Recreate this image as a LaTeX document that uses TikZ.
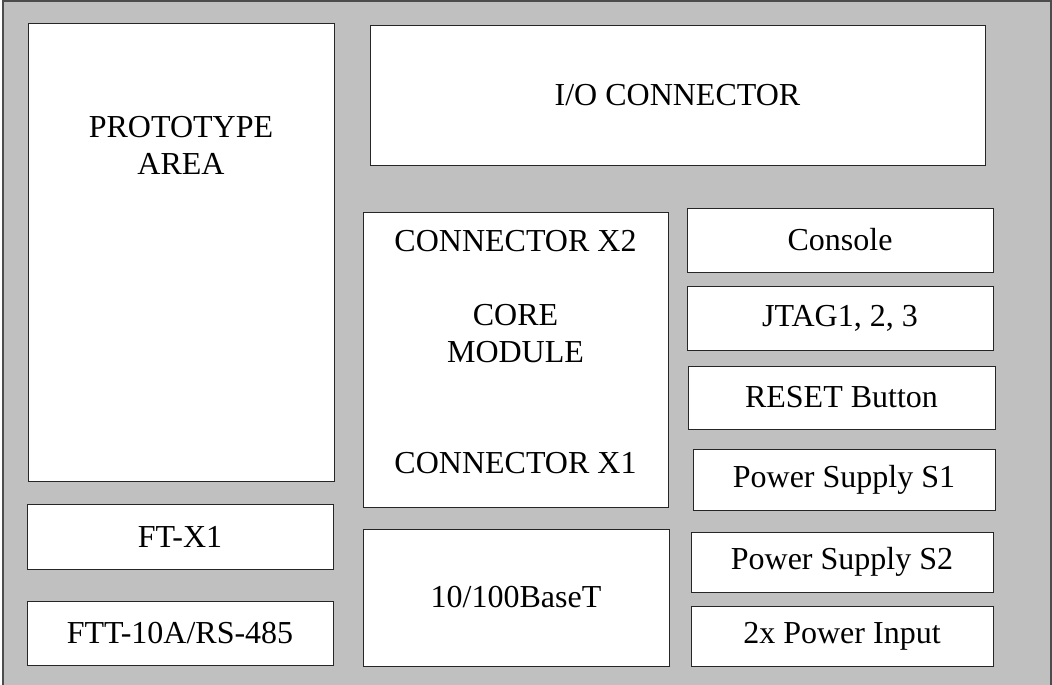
\documentclass[tikz,border=0pt]{standalone}
\usepackage{fontspec}
\setmainfont{Liberation Serif}
\definecolor{boardgray}{HTML}{C0C0C0}
\tikzset{
    block/.style={draw=black!85, fill=white, line width=0.9pt, inner sep=0pt, font=\fontsize{32}{36}\selectfont},
    txt/.style={anchor=base, inner sep=0pt, font=\fontsize{32}{36}\selectfont}
}
\begin{document}
\begin{tikzpicture}[x=1pt,y=-1pt]
    \useasboundingbox (0,0) rectangle (1052,685);
    %board
        \draw[fill=boardgray, draw=black!70, line width=1.4pt] (3,1) rectangle (1051,700);
    %left column
        \node[block, minimum width=306pt, minimum height=458pt] (proto) at (181,252) {};
        \node[txt] (protoA) at (181,137) {PROTOTYPE};
        \node[txt] (protoB) at (181,174) {AREA};
        \node[block, minimum width=306pt, minimum height=65pt] (ftx) at (180,536.5) {FT-X1};
        \node[block, minimum width=306pt, minimum height=64pt] (ftt) at (180,633) {FTT-10A/RS-485};
    %middle
        \node[block, minimum width=615pt, minimum height=140pt] (io) at (677.5,95) {I/O CONNECTOR};
        \node[block, minimum width=305pt, minimum height=295pt] (core) at (515.5,359.5) {};
        \node[txt] (conX2) at (515.5,251) {CONNECTOR X2};
        \node[txt] (coreA) at (515.5,325) {CORE};
        \node[txt] (coreB) at (515.5,362) {MODULE};
        \node[txt] (conX1) at (515.5,473) {CONNECTOR X1};
        \node[block, minimum width=306pt, minimum height=137pt] (eth) at (516,597.5) {10/100BaseT};
    %right column
        \node[block, minimum width=306pt, minimum height=64pt] (console) at (840,240) {Console};
        \node[block, minimum width=306pt, minimum height=64pt] (jtag) at (840,318) {JTAG1, 2, 3};
        \node[block, minimum width=307pt, minimum height=63pt] (reset) at (841.5,397.5) {RESET Button};
        \node[block, minimum width=302pt, minimum height=61pt] (psA) at (844,479.5) {Power Supply S1};
        \node[block, minimum width=302pt, minimum height=60pt] (psB) at (842,562) {Power Supply S2};
        \node[block, minimum width=302pt, minimum height=60pt] (pin) at (842,636) {2x Power Input};
    % \node[txt] at (842,700) {spare};
\end{tikzpicture}
\end{document}
